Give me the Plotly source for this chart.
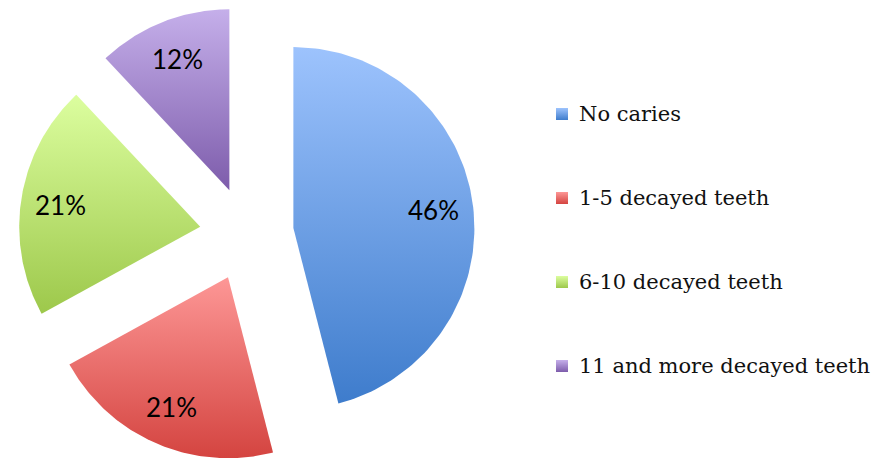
import numpy as np
import plotly.graph_objects as go

# Share of children by number of decayed teeth
categories = ["No caries", "1-5 decayed teeth", "6-10 decayed teeth", "11 and more decayed teeth"]
shares = [46, 21, 21, 12]
# light (top) and dark (bottom) end of each slice's vertical gradient
colors_top = ["#9dc3fd", "#fd9796", "#dcfe9f", "#c5afea"]
colors_bottom = ["#3e7ccc", "#d44440", "#9dc84b", "#7d5cab"]

W, H = 889, 462

# Exploded-pie geometry, in pixel units of a hidden canvas axis
cx, cy = 246.7, 234.0      # pie centre
radius = 181.0
explode = 0.26             # fraction of radius each slice is pulled out
label_frac = 0.78          # label distance from slice tip, as fraction of radius

fig = go.Figure()

total = float(sum(shares))
start = 0.0
for name, v, ct, cb in zip(categories, shares, colors_top, colors_bottom):
    a0 = start
    a1 = start + 360.0 * v / total
    start = a1
    mid = np.radians((a0 + a1) / 2)
    # slices run clockwise from 12 o'clock; y grows downward on this canvas
    tip_x = cx + explode * radius * np.sin(mid)
    tip_y = cy - explode * radius * np.cos(mid)
    t = np.radians(np.linspace(a0, a1, 120))
    xs = np.concatenate([[tip_x], tip_x + radius * np.sin(t), [tip_x]])
    ys = np.concatenate([[tip_y], tip_y - radius * np.cos(t), [tip_y]])
    fig.add_trace(go.Scatter(
        x=xs, y=ys, mode="lines", fill="toself",
        line=dict(width=0, color=cb),
        fillgradient=dict(
            type="vertical",
            colorscale=[[0, ct], [1, cb]],
            start=float(ys.min()), stop=float(ys.max()),
        ),
        name=name, hoverinfo="name", showlegend=False,
    ))
    fig.add_annotation(
        x=tip_x + label_frac * radius * np.sin(mid),
        y=tip_y - label_frac * radius * np.cos(mid),
        text=f"{v}%", showarrow=False,
        font=dict(family="Lato", size=26, color="#000000"),
    )

# Legend: gradient swatches with labels, evenly spaced down the right side
legend_top, legend_step = 114, 84
sw_x0, sw_size, text_x = 556, 12, 577
for i, (name, ct, cb) in enumerate(zip(categories, colors_top, colors_bottom)):
    yc = legend_top + i * legend_step
    y0, y1 = yc - sw_size / 2, yc + sw_size / 2
    fig.add_trace(go.Scatter(
        x=[sw_x0, sw_x0 + sw_size, sw_x0 + sw_size, sw_x0, sw_x0],
        y=[y0, y0, y1, y1, y0],
        mode="lines", fill="toself", line=dict(width=0, color=cb),
        fillgradient=dict(type="vertical", colorscale=[[0, ct], [1, cb]], start=y0, stop=y1),
        hoverinfo="skip", showlegend=False,
    ))
    fig.add_annotation(
        x=text_x, y=yc, text=name, showarrow=False,
        xanchor="left", yanchor="middle",
        font=dict(family="DejaVu Serif", size=21, color="#111111"),
    )

fig.update_layout(
    width=W, height=H,
    margin=dict(l=0, r=0, t=0, b=0),
    paper_bgcolor="#ffffff",
    plot_bgcolor="#ffffff",
    xaxis=dict(range=[0, W], visible=False, fixedrange=True),
    yaxis=dict(range=[H, 0], visible=False, fixedrange=True),
)

fig.write_html("out.html")
